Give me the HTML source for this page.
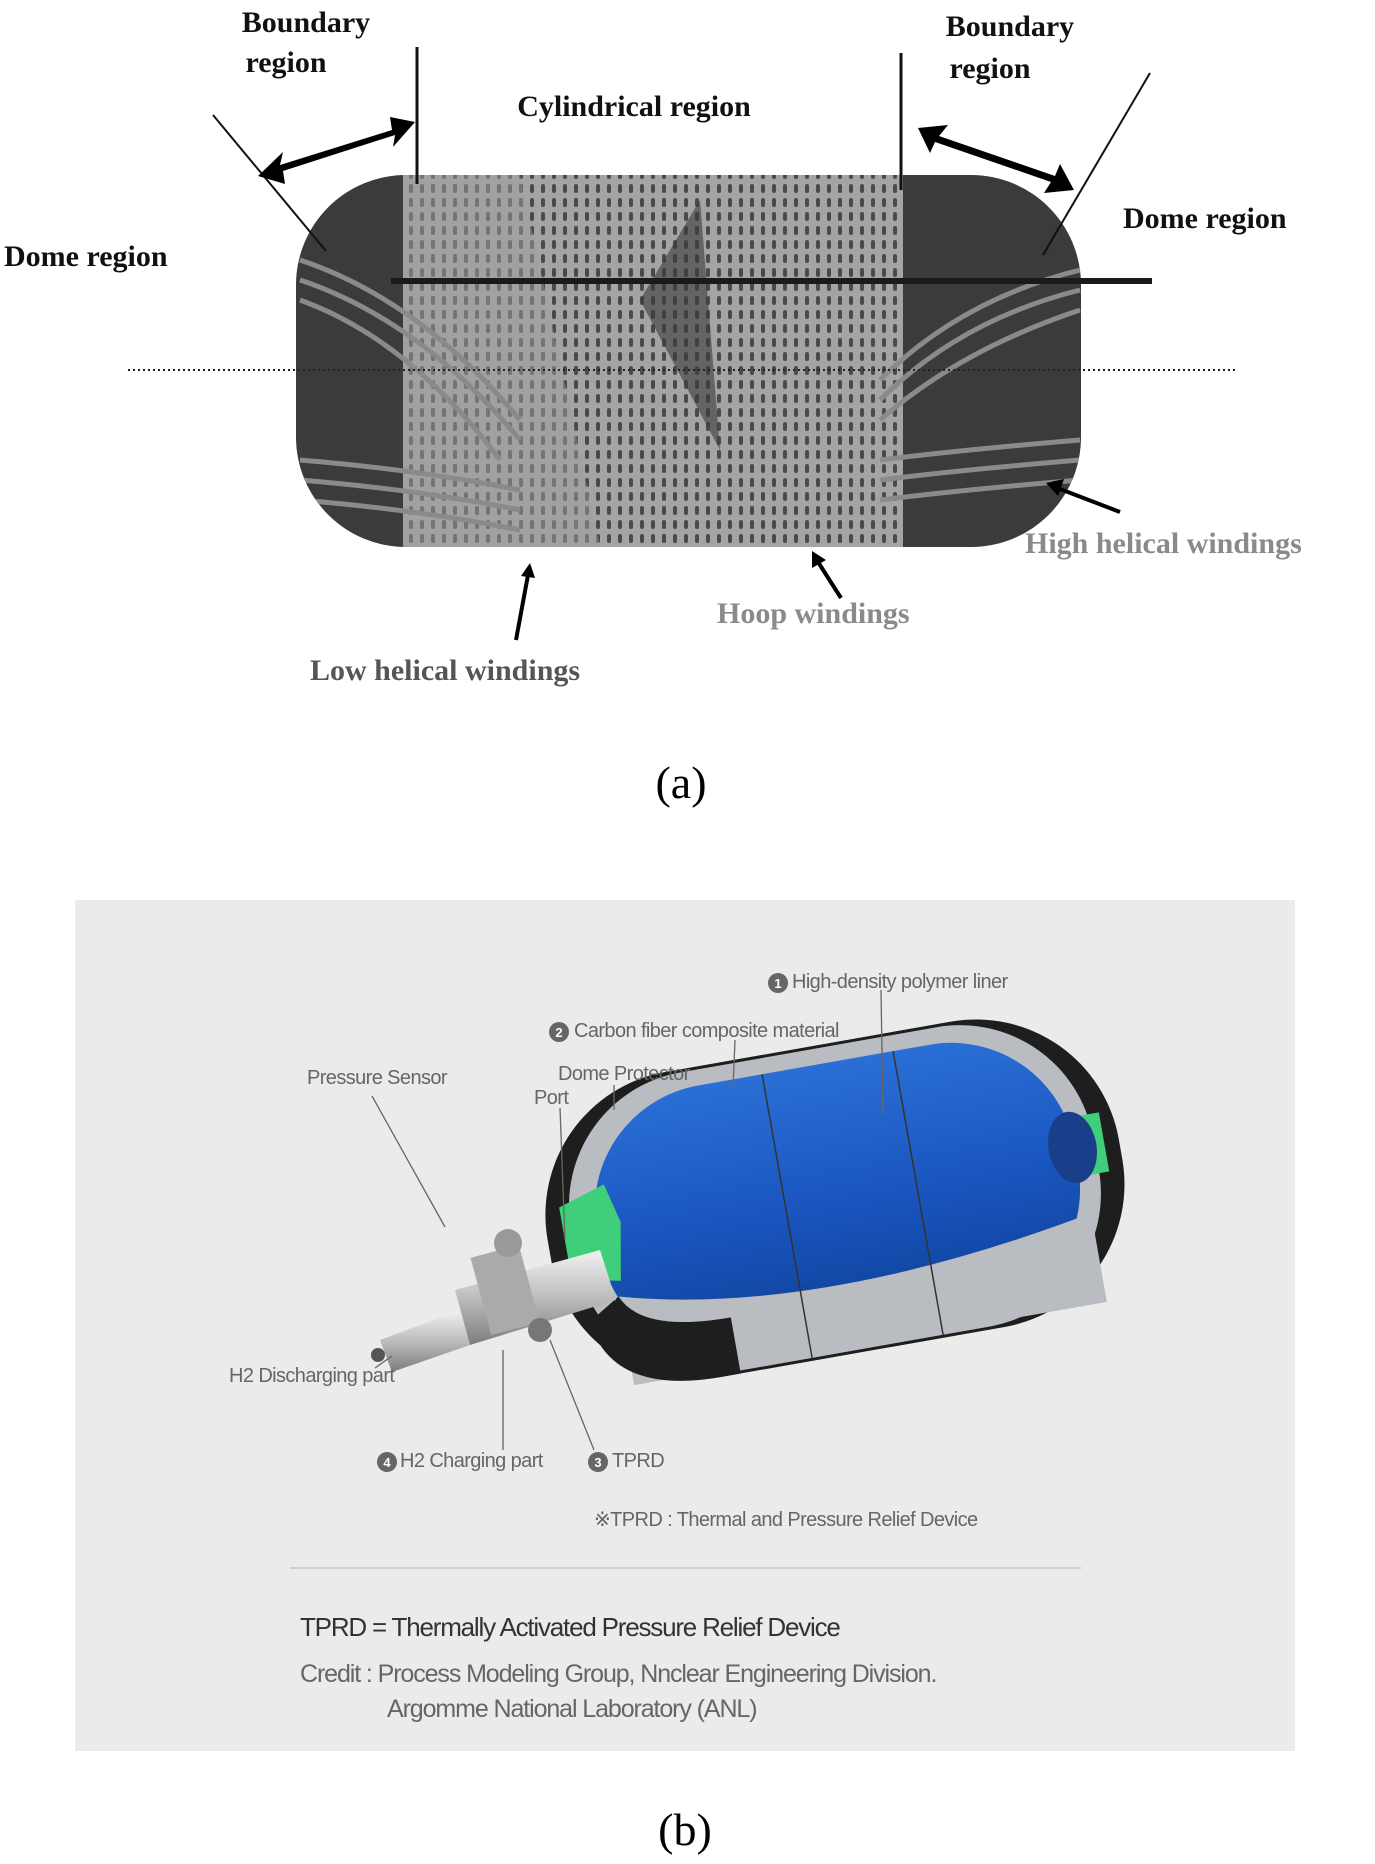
<!DOCTYPE html>
<html><head><meta charset="utf-8"><style>
html,body{margin:0;padding:0;background:#fff;}
svg{display:block;}
.b{font-family:"Liberation Serif",serif;font-weight:bold;font-size:30px;fill:#111;}
.g{font-family:"Liberation Serif",serif;font-weight:bold;font-size:30px;}
.s{font-family:"Liberation Sans",sans-serif;font-size:20px;fill:#666;letter-spacing:-0.6px;}
</style></head><body>
<svg width="1375" height="1864" viewBox="0 0 1375 1864" xmlns="http://www.w3.org/2000/svg">
<defs>
<pattern id="st" width="11" height="14" patternUnits="userSpaceOnUse">
<rect width="11" height="14" fill="#a4a4a4"/>
<rect x="2" y="2" width="4" height="9" rx="2" fill="#4a4a4a"/>
</pattern>
<clipPath id="tk"><rect x="296" y="175" width="785" height="372" rx="110"/></clipPath>
<linearGradient id="met" x1="0" y1="0" x2="0" y2="1"><stop offset="0" stop-color="#f2f2f2"/><stop offset="0.5" stop-color="#bdbdbd"/><stop offset="1" stop-color="#7d7d7d"/></linearGradient>
<linearGradient id="blu" x1="0" y1="0" x2="0" y2="1"><stop offset="0" stop-color="#2a6fd6"/><stop offset="0.5" stop-color="#1a56c0"/><stop offset="1" stop-color="#0e3f95"/></linearGradient>
</defs>

<!-- (a) tank -->
<rect x="296" y="175" width="785" height="372" rx="110" fill="#3b3b3b"/>
<g clip-path="url(#tk)">
<rect x="403" y="175" width="500" height="372" fill="url(#st)"/>
<path d="M403 175 L520 175 L600 547 L403 547 Z" fill="#9d9d9d" opacity="0.5"/>
<path d="M640 300 L700 200 L720 450 Z" fill="#3b3b3b" opacity="0.6"/>
<g fill="none" stroke="#8a8a8a" stroke-width="5">
<path d="M300 260 Q420 300 520 420"/><path d="M300 280 Q420 320 520 440"/><path d="M300 300 Q410 340 500 460"/>
<path d="M300 460 Q420 470 520 490"/><path d="M300 480 Q420 490 520 510"/><path d="M300 500 Q420 510 520 530"/>
<path d="M1080 270 Q960 300 880 380"/><path d="M1080 290 Q960 320 880 400"/><path d="M1080 310 Q960 350 880 420"/>
<path d="M1080 440 Q960 450 880 460"/><path d="M1080 460 Q960 470 880 480"/><path d="M1080 480 Q960 490 880 500"/>
</g>
</g>
<line x1="391" y1="281" x2="1152" y2="281" stroke="#1a1a1a" stroke-width="6"/>
<line x1="128" y1="370" x2="1238" y2="370" stroke="#222" stroke-width="2" stroke-dasharray="2,3"/>
<line x1="417" y1="47" x2="417" y2="184" stroke="#111" stroke-width="3"/>
<line x1="213" y1="115" x2="326" y2="251" stroke="#111" stroke-width="2"/>
<line x1="901" y1="53" x2="901" y2="190" stroke="#111" stroke-width="3"/>
<line x1="1150" y1="73" x2="1043" y2="255" stroke="#111" stroke-width="2"/>
<g fill="#000">
<polygon points="258,176 283,152 280,165 392,130 390,117 415,122 393,147 395,135 283,171 285,184"/>
<polygon points="918,128 948,125 939,136 1055,176 1060,164 1074,190 1044,193 1051,182 935,142 930,153"/>
</g>
<text class="b" x="306" y="32" text-anchor="middle">Boundary</text>
<text class="b" x="286" y="72" text-anchor="middle">region</text>
<text class="b" x="634" y="116" text-anchor="middle">Cylindrical region</text>
<text class="b" x="1010" y="36" text-anchor="middle">Boundary</text>
<text class="b" x="990" y="78" text-anchor="middle">region</text>
<text class="b" x="1123" y="228">Dome region</text>
<text class="b" x="4" y="266">Dome region</text>
<g stroke="#000" stroke-width="4"><line x1="1120" y1="512" x2="1060" y2="489"/><line x1="841" y1="598" x2="818" y2="562"/><line x1="516" y1="640" x2="528" y2="575"/></g>
<g fill="#000"><polygon points="1046,483 1064,479 1058,496"/><polygon points="812,551 826,560 812,568"/><polygon points="530,563 535,578 521,576"/></g>
<text class="g" x="1025" y="553" fill="#8a8a8a">High helical windings</text>
<text class="g" x="717" y="623" fill="#8a8a8a">Hoop windings</text>
<text class="g" x="310" y="680" fill="#555">Low helical windings</text>
<text x="681" y="798" text-anchor="middle" font-family="Liberation Serif,serif" font-size="46" fill="#000">(a)</text>

<!-- (b) -->
<rect x="75" y="900" width="1220" height="851" fill="#ebebeb"/>
<g transform="rotate(-10 832 1200)">
<rect x="545" y="1045" width="580" height="310" rx="145" fill="#1e1e1e"/>
<rect x="570" y="1048" width="530" height="304" rx="135" fill="#b9bcc0"/>
<rect x="595" y="1064" width="485" height="272" rx="125" fill="url(#blu)"/>
<path d="M605 1258 Q800 1312 1085 1258 L1085 1348 L605 1348Z" fill="#b9bcc0"/>
<path d="M572 1278 Q582 1355 692 1355 L712 1355 L712 1298 Q622 1298 605 1258 Z" fill="#1e1e1e"/>
<line x1="785" y1="1064" x2="785" y2="1352" stroke="#333" stroke-width="1.5"/>
<line x1="918" y1="1064" x2="918" y2="1352" stroke="#333" stroke-width="1.5"/>
<path d="M562 1160 L610 1145 L620 1185 L610 1243 L562 1233Z" fill="#3fcf7a"/>
<rect x="1070" y="1160" width="40" height="60" fill="#3fcf7a"/>
<ellipse cx="1078" cy="1190" rx="24" ry="36" fill="#1a3f8a"/>
</g>
<g>
<polygon points="380,1340 460,1310 470,1345 392,1372" fill="url(#met)"/>
<polygon points="455,1290 600,1250 616,1300 470,1345" fill="url(#met)"/>
<rect x="480" y="1250" width="50" height="80" fill="#aaa" transform="rotate(-15 505 1290)"/>
<circle cx="508" cy="1243" r="14" fill="#999"/>
<circle cx="540" cy="1330" r="12" fill="#777"/>
<circle cx="378" cy="1355" r="7" fill="#555"/>
</g>
<g stroke="#666" stroke-width="1.3" fill="none">
<line x1="372" y1="1096" x2="445" y2="1227"/>
<line x1="881" y1="990" x2="883" y2="1115"/>
<line x1="735" y1="1040" x2="733" y2="1088"/>
<line x1="614" y1="1085" x2="614" y2="1110"/>
<line x1="560" y1="1108" x2="565" y2="1240"/>
<line x1="375" y1="1368" x2="392" y2="1356"/>
<line x1="503" y1="1450" x2="503" y2="1350"/>
<line x1="594" y1="1450" x2="550" y2="1340"/>
</g>
<g font-family="Liberation Sans,sans-serif" font-size="13" font-weight="bold" fill="#fff" text-anchor="middle">
<circle cx="778" cy="983" r="10" fill="#666"/><text x="778" y="988">1</text>
<circle cx="559" cy="1032" r="10" fill="#666"/><text x="559" y="1037">2</text>
<circle cx="598" cy="1462" r="10" fill="#666"/><text x="598" y="1467">3</text>
<circle cx="387" cy="1462" r="10" fill="#666"/><text x="387" y="1467">4</text>
</g>
<text class="s" x="792" y="988">High-density polymer liner</text>
<text class="s" x="574" y="1037">Carbon fiber composite material</text>
<text class="s" x="558" y="1080">Dome Protector</text>
<text class="s" x="534" y="1104">Port</text>
<text class="s" x="307" y="1084">Pressure Sensor</text>
<text class="s" x="229" y="1382">H2 Discharging part</text>
<text class="s" x="400" y="1467">H2 Charging part</text>
<text class="s" x="612" y="1467">TPRD</text>
<text class="s" x="594" y="1526">※TPRD :  Thermal and Pressure Relief Device</text>
<line x1="290" y1="1568" x2="1081" y2="1568" stroke="#c8c8c8" stroke-width="1.5"/>
<text x="300" y="1636" font-family="Liberation Sans,sans-serif" font-size="26" fill="#333" letter-spacing="-1.2">TPRD = Thermally Activated Pressure Relief Device</text>
<text x="300" y="1682" font-family="Liberation Sans,sans-serif" font-size="25" fill="#666" letter-spacing="-1.1">Credit :  Process Modeling Group, Nnclear Engineering Division.</text>
<text x="387" y="1717" font-family="Liberation Sans,sans-serif" font-size="25" fill="#666" letter-spacing="-1.1">Argomme National Laboratory (ANL)</text>
<text x="685" y="1845" text-anchor="middle" font-family="Liberation Serif,serif" font-size="46" fill="#000">(b)</text>
</svg>
</body></html>
